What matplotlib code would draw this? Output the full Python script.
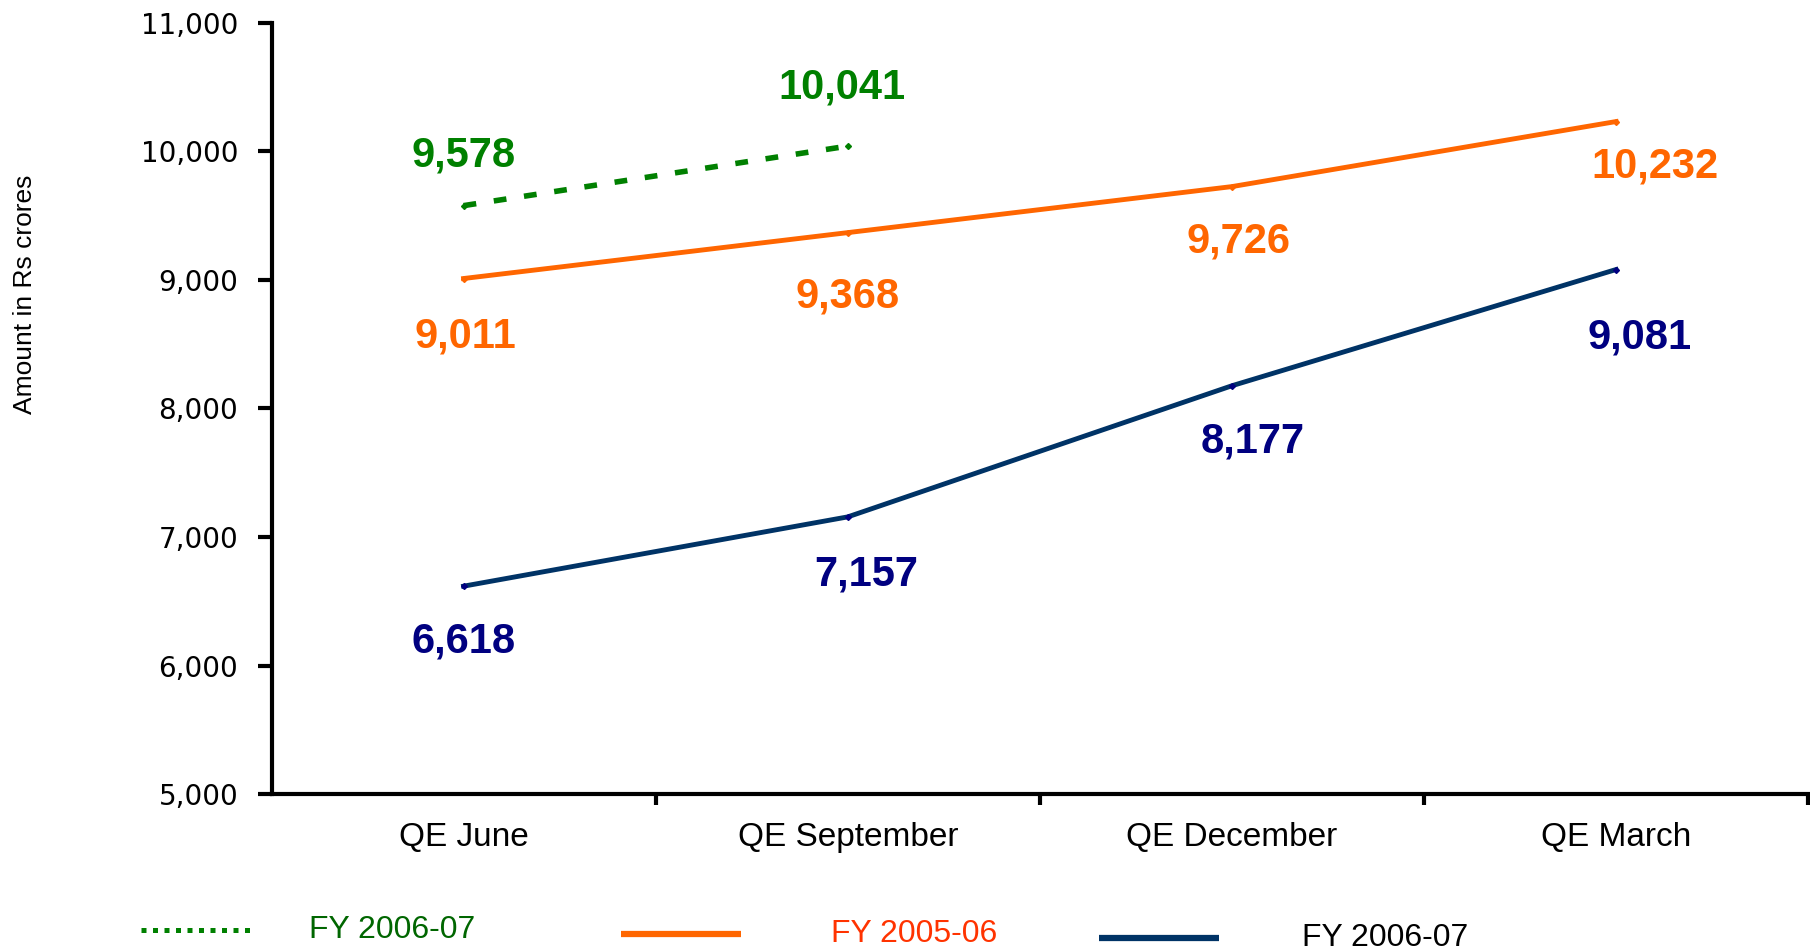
import matplotlib.pyplot as plt
from matplotlib.lines import Line2D
from matplotlib.ticker import FuncFormatter

plt.rcParams['font.family'] = ['Liberation Sans', 'DejaVu Sans']

quarters = ['QE June', 'QE September', 'QE December', 'QE March']
fy0607_now = [9578, 10041]             # dotted green, first two quarters
fy0506 = [9011, 9368, 9726, 10232]     # orange
fy0607 = [6618, 7157, 8177, 9081]      # navy

# label offsets in pixels (dx, dy), dy positive = up
off_green = [(0, 50), (-6, 59)]
off_orange = [(2, -58), (0, -64), (7, -55), (39, -45)]
off_navy = [(0, -55), (18, -58), (21, -56), (23, -68)]

fig = plt.figure(figsize=(18.1, 9.5), dpi=100)
ax = fig.add_axes([0.150, 0.164, 0.849, 0.812])

x = [i + 0.5 for i in range(len(quarters))]

ax.plot(x[:len(fy0607_now)], fy0607_now, color='#008000', lw=4,
        dashes=(2.3, 3.2), marker='D', markersize=3)
ax.plot(x, fy0506, color='#FF6600', lw=3.5, marker='D', markersize=3)
ax.plot(x, fy0607, color='#003366', lw=3.5, marker='D', markersize=3,
        markerfacecolor='#000080', markeredgecolor='#000080')

lbl = dict(fontsize=30, fontweight='bold', ha='center', va='center',
           textcoords='offset pixels')
for xi, v, o in zip(x, fy0607_now, off_green):
    ax.annotate(f'{v:,}', (xi, v), xytext=o, color='#008000', **lbl)
for xi, v, o in zip(x, fy0506, off_orange):
    ax.annotate(f'{v:,}', (xi, v), xytext=o, color='#FF6600', **lbl)
for xi, v, o in zip(x, fy0607, off_navy):
    ax.annotate(f'{v:,}', (xi, v), xytext=o, color='#000080', **lbl)

ax.set_xlim(0, 4)
ax.set_ylim(5000, 11000)
ax.set_yticks(range(5000, 11001, 1000))
ax.yaxis.set_major_formatter(FuncFormatter(lambda v, p: f'{int(v):,}'))
ax.tick_params(axis='y', direction='out', length=10, width=3, pad=14,
               labelsize=20)
for t in ax.get_yticklabels():
    t.set_fontfamily('DejaVu Sans')

ax.set_xticks([1, 2, 3, 4])
ax.set_xticklabels([])
ax.tick_params(axis='x', which='major', direction='out', length=8, width=3)
ax.set_xticks(x, minor=True)
ax.set_xticklabels(quarters, minor=True, fontsize=24)
ax.tick_params(axis='x', which='minor', length=0, pad=20)

for s in ['top', 'right']:
    ax.spines[s].set_visible(False)
for s in ['left', 'bottom']:
    ax.spines[s].set_linewidth(3)

fig.text(25 / 1810, 1 - 294 / 950, 'Amount in Rs crores', rotation=90,
         ha='center', va='center', fontsize=19)

# legend drawn by hand, spread along the bottom
legend_items = [
    ((141, 256), 930, (309, 930), 'FY 2006-07', '#008000', '#006600', (1.0, 1.3), 3.6),
    ((621, 741), 934, (831, 934), 'FY 2005-06', '#FF6600', '#FF3300', None, 4.5),
    ((1099, 1219), 938, (1302, 938), 'FY 2006-07', '#003366', 'black', None, 4.5),
]
W, H = 1810, 950
for (x0, x1), ly, (tx, ty), name, lc, tc, dash, lw in legend_items:
    ln = Line2D([x0 / W, x1 / W], [1 - ly / H, 1 - ly / H], color=lc, lw=lw,
                transform=fig.transFigure, solid_capstyle='butt',
                dash_capstyle='butt')
    if dash:
        ln.set_dashes(dash)
    fig.add_artist(ln)
    fig.text(tx / W, 1 - ty / H, name, color=tc, fontsize=23,
             ha='left', va='center')

plt.savefig('out.png', dpi=100)
